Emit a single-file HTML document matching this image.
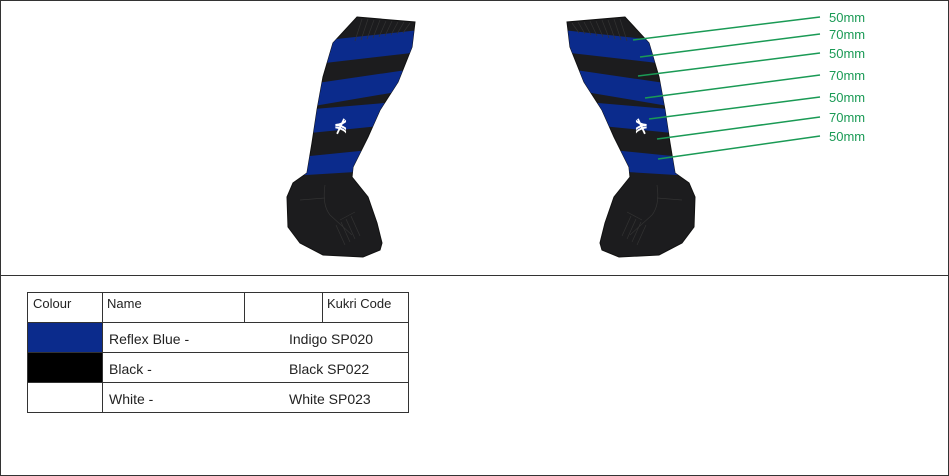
<!DOCTYPE html>
<html><head><style>
html,body{margin:0;padding:0;background:#fff;}
svg{display:block;}
</style></head><body>
<svg width="949" height="476" viewBox="0 0 949 476" xmlns="http://www.w3.org/2000/svg">
<defs>
<clipPath id="leg">
<polygon points="357,17 415,22 412,47 398,82 380,110 368,137 353,167 352,177 368,197 377,223 382,243 380,250 363,257 323,255 300,243 288,227 287,197 293,183 307,173 312,143 317,110 323,77 333,43"/>
</clipPath>
<g id="sock">
<polygon points="357,17 415,22 412,47 398,82 380,110 368,137 353,167 352,177 368,197 377,223 382,243 380,250 363,257 323,255 300,243 288,227 287,197 293,183 307,173 312,143 317,110 323,77 333,43" fill="#1c1c1e" stroke="#111" stroke-width="1"/>
<g clip-path="url(#leg)" fill="#0b2b8c">
<polygon points="290,44 420,30 420,52 290,67"/>
<polygon points="290,87 420,68 420,88 290,110"/>
<polygon points="290,111 420,100 420,122 290,135"/>
<polygon points="290,158 420,145 420,168 290,176"/>
</g>
<g stroke="#333" stroke-width="0.7" fill="none">
<line x1="362" y1="19" x2="355" y2="41"/><line x1="368" y1="19" x2="361" y2="40"/><line x1="374" y1="20" x2="367" y2="39"/><line x1="380" y1="20" x2="373" y2="38"/><line x1="386" y1="21" x2="379" y2="37"/><line x1="392" y1="21" x2="385" y2="36"/><line x1="398" y1="22" x2="391" y2="35"/><line x1="404" y1="22" x2="397" y2="34"/><line x1="410" y1="23" x2="403" y2="33"/>
<path d="M325 185 Q322 205 330 215 L352 235"/><path d="M300 200 L325 198"/><path d="M340 220 L355 212"/><path d="M336 225 L345 245 M341 222 L350 242 M346 219 L355 239 M351 216 L360 236"/>
</g>
<text x="334" y="131" font-family="Liberation Sans, sans-serif" font-size="16" font-weight="bold" fill="#fff">⋠</text>
</g>
</defs>
<rect x="0.5" y="0.5" width="948" height="475" fill="#fff" stroke="#333" stroke-width="1"/>
<line x1="0" y1="275.5" x2="949" y2="275.5" stroke="#333" stroke-width="1"/>
<use href="#sock"/>
<use href="#sock" transform="translate(982,0) scale(-1,1)"/>
<g stroke="#1a9a55" stroke-width="1.5">
<line x1="633" y1="40" x2="820" y2="17"/>
<line x1="640" y1="57" x2="820" y2="34"/>
<line x1="638" y1="76" x2="820" y2="53"/>
<line x1="645" y1="98" x2="820" y2="75"/>
<line x1="649" y1="119" x2="820" y2="97"/>
<line x1="657" y1="139" x2="820" y2="117"/>
<line x1="658" y1="159" x2="820" y2="136"/>
</g>
<g font-family="Liberation Sans, sans-serif" font-size="13" fill="#1a9a55">
<text x="829" y="22">50mm</text>
<text x="829" y="39">70mm</text>
<text x="829" y="58">50mm</text>
<text x="829" y="80">70mm</text>
<text x="829" y="102">50mm</text>
<text x="829" y="122">70mm</text>
<text x="829" y="141">50mm</text>
</g>
<rect x="28" y="322" width="74" height="30" fill="#0b2b8c"/>
<rect x="28" y="352" width="74" height="30" fill="#000"/>
<g stroke="#333" stroke-width="1" fill="none">
<rect x="27.5" y="292.5" width="381" height="120"/>
<line x1="27" y1="322.5" x2="409" y2="322.5"/>
<line x1="27" y1="352.5" x2="409" y2="352.5"/>
<line x1="27" y1="382.5" x2="409" y2="382.5"/>
<line x1="102.5" y1="292" x2="102.5" y2="413"/>
<line x1="244.5" y1="292" x2="244.5" y2="322"/>
<line x1="322.5" y1="292" x2="322.5" y2="322"/>
</g>
<g font-family="Liberation Sans, sans-serif" fill="#222">
<text x="33" y="308" font-size="13">Colour</text>
<text x="107" y="308" font-size="13">Name</text>
<text x="327" y="308" font-size="13">Kukri Code</text>
<text x="109" y="344" font-size="14">Reflex Blue  -</text>
<text x="289" y="344" font-size="14">Indigo SP020</text>
<text x="109" y="374" font-size="14">Black -</text>
<text x="289" y="374" font-size="14">Black SP022</text>
<text x="109" y="404" font-size="14">White -</text>
<text x="289" y="404" font-size="14">White SP023</text>
</g>
</svg>
</body></html>
